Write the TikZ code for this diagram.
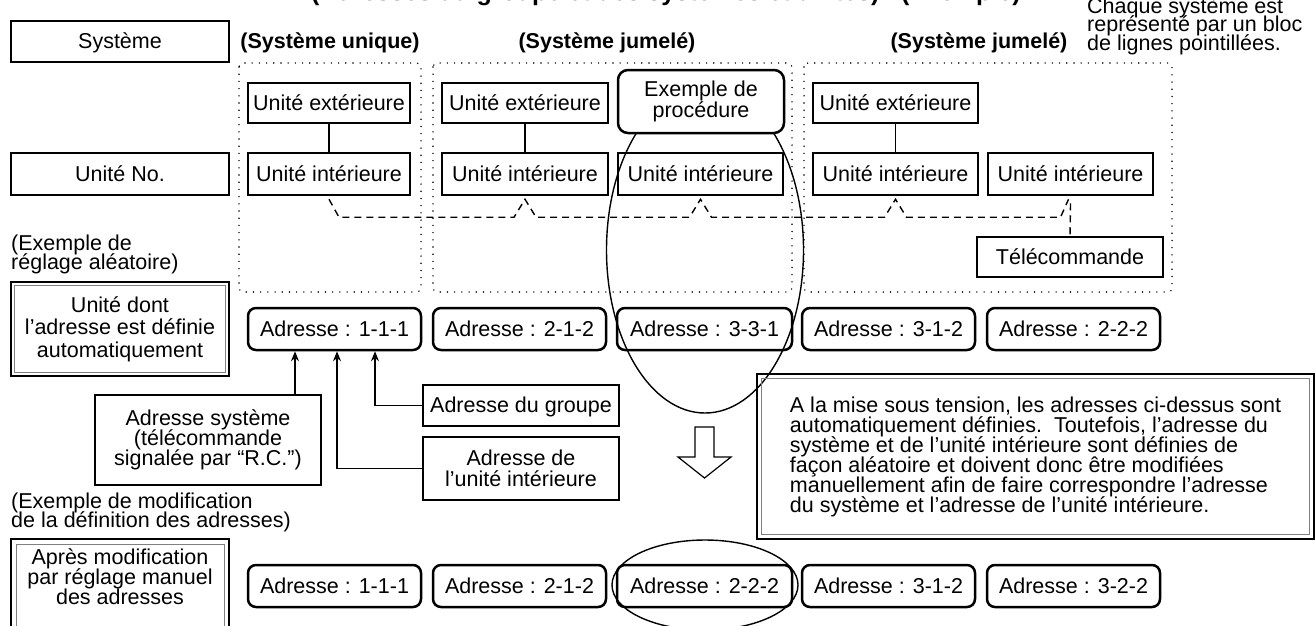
\documentclass[tikz,border=0pt]{standalone}
\usepackage{fontspec}
\setmainfont{Liberation Sans}
\usetikzlibrary{arrows.meta,calc}
\newcommand\lfont[1]{\fontsize{21.5}{#1}\selectfont\lineskiplimit=-100pt\lineskip=0pt}
\tikzset{
  ubox/.style={draw, line width=2.5, inner sep=0, minimum height=41, text height=16, text depth=2, font=\lfont{22}},
  rbox/.style={ubox, rounded corners=8},
  mbox/.style={draw, line width=2.5, inner sep=0, align=center},
  hdr/.style={inner sep=0, text height=16, text depth=4.5, font=\bfseries\lfont{22}},
  txt/.style={inner sep=0, align=left},
  dotbox/.style={line width=1.6, dash pattern=on 0pt off 7.2pt, line cap=round, rounded corners=4},
  bus/.style={line width=1.4, dash pattern=on 7pt off 5pt},
  conn/.style={line width=1.4},
  arr/.style={conn, -{Stealth[length=10pt,width=8pt]}},
  innerline/.style={line width=1, gray},
  outerline/.style={line width=2.6}
}
\begin{document}
\begin{tikzpicture}[x=1pt,y=-1pt]
\useasboundingbox (0,0) rectangle (1316,625);

% title (cut off at the top)
\node[anchor=base west, inner sep=0, font=\bfseries\fontsize{25}{25}\selectfont] (title) at (311,0.5) {(Adresses du groupe et des systèmes et unités)};
\node[anchor=base west, inner sep=0, font=\bfseries\fontsize{25}{25}\selectfont] (title2) at (901,0.5) {(Exemple)};
\node[anchor=north west, txt, font=\lfont{18.5}] (legend) at (1087,-3) {Chaque système est\\représenté par un bloc\\de lignes pointillées.};

% left column
\node[ubox, minimum width=218] (sys) at (120,41.5) {Système};
\node[ubox, minimum width=218, minimum height=42] (uno) at (120,174) {Unité No.};
\node[txt, anchor=west, font=\lfont{19}] (lab1) at (11,254) {(Exemple de\\réglage aléatoire)};
\node[mbox, outerline, minimum width=218, minimum height=94, font=\lfont{22.5}] (auto) at (120,329) {Unité dont\\l’adresse est définie\\automatiquement};
\draw[innerline] ($(auto.north west)+(5,5)$) rectangle ($(auto.south east)+(-5,-5)$);
\node[txt, anchor=west, font=\lfont{19}] (lab2) at (11,512.5) {(Exemple de modification\\de la définition des adresses)};
\draw[outerline] (11,539) rectangle (229,650);
\draw[innerline] (16,544) rectangle (224,645);
\node[inner sep=0, align=center, font=\lfont{20}] (apres) at (120,577) {Après modification\\par réglage manuel\\des adresses};

% headers
\node[hdr] (h1) at (330,43) {(Système unique)};
\node[hdr] (h2) at (607,43) {(Système jumelé)};
\node[hdr] (h3) at (979,43) {(Système jumelé)};

% system blocks
\draw[dotbox] (239,63) rectangle (421,292);
\draw[dotbox] (433,63) rectangle (792,292);
\draw[dotbox] (804,63) rectangle (1172,292);

% outdoor units
\node[ubox, minimum width=162, minimum height=40] (e1) at (329,103) {Unité extérieure};
\node[ubox, minimum width=166, minimum height=40] (e2) at (525,103) {Unité extérieure};
\node[ubox, minimum width=165, minimum height=40] (e3) at (895.5,103) {Unité extérieure};

% indoor units
\node[ubox, minimum width=162, minimum height=42] (i1) at (329,174) {Unité intérieure};
\node[ubox, minimum width=166, minimum height=42] (i2) at (525,174) {Unité intérieure};
\node[ubox, minimum width=165, minimum height=42] (i3) at (700.5,174) {Unité intérieure};
\node[ubox, minimum width=165, minimum height=42] (i4) at (895.5,174) {Unité intérieure};
\node[ubox, minimum width=165, minimum height=42] (i5) at (1070.5,174) {Unité intérieure};
\node[ubox, minimum width=186, minimum height=40] (tele) at (1070,257) {Télécommande};

\draw[conn] (e1) -- (i1);
\draw[conn] (e2) -- (i2);
\draw[conn] (e3) -- (i4);

\draw[bus] ($(i1.south)+(0,3)$) -- ($(i1.south)+(10,21)$) -- ($(i2.south)+(-11,21)$) -- ($(i2.south)+(0,3)$)
  -- ($(i2.south)+(11,21)$) -- ($(i3.south)+(-11,21)$) -- ($(i3.south)+(0,3)$)
  -- ($(i3.south)+(11,21)$) -- ($(i4.south)+(-11,21)$) -- ($(i4.south)+(0,3)$)
  -- ($(i4.south)+(11,21)$) -- ($(i5.south)+(-10,21)$) -- ($(i5.south)+(-2,3)$);
\draw[bus] ($(i5.south)+(0,7)$) -- (tele.north);

% addresses, random setting
\node[rbox, minimum width=173, minimum height=42] (a1) at (334.5,329) {Adresse : 1-1-1};
\node[rbox, minimum width=173, minimum height=42] (a2) at (519.5,329) {Adresse : 2-1-2};
\node[rbox, minimum width=175, minimum height=42] (a3) at (704.5,329) {Adresse : 3-3-1};
\node[rbox, minimum width=173, minimum height=42] (a4) at (888.5,329) {Adresse : 3-1-2};
\node[rbox, minimum width=173, minimum height=42] (a5) at (1073.5,329) {Adresse : 2-2-2};

% highlighted procedure example
\draw[conn] (705,250) ellipse [x radius=98.5, y radius=163];
\node[rbox, fill=white, rounded corners=10, minimum width=166, minimum height=63, align=center, text height=, text depth=, font=\lfont{21}] (proc) at (701,101.5) {Exemple de\\procédure};

% address parts
\node[mbox, minimum width=226, minimum height=90, font=\lfont{20}] (asys) at (208,440) {Adresse système\\(télécommande\\signalée par “R.C.”)};
\node[ubox, minimum width=196, minimum height=41] (agrp) at (521,405.5) {Adresse du groupe};
\node[mbox, minimum width=196, minimum height=63, font=\lfont{21}] (aunit) at (521,468.5) {Adresse de\\l’unité intérieure};
\coordinate (t1) at (295,0);
\coordinate (t2) at (337,0);
\coordinate (t3) at (375,0);
\draw[arr] (t1 |- asys.north) -- (t1 |- a1.south);
\draw[arr] (aunit.west) -| (t2 |- a1.south);
\draw[arr] (agrp.west) -| (t3 |- a1.south);

% hollow down arrow
\draw[conn, line width=1.2, line join=miter] (695,427) -- (714,427) -- (714,457) -- (731,457) -- (704.5,478) -- (678,457) -- (695,457) -- cycle;

% explanation
\node[mbox, outerline, minimum width=557, minimum height=165, align=left, font=\lfont{20}] (note) at (1035.5,456.5) {A la mise sous tension, les adresses ci-dessus sont\\automatiquement définies.\ \ Toutefois, l’adresse du\\système et de l’unité intérieure sont définies de\\façon aléatoire et doivent donc être modifiées\\manuellement afin de faire correspondre l’adresse\\du système et l’adresse de l’unité intérieure.};
\draw[innerline] ($(note.north west)+(6,6)$) rectangle ($(note.south east)+(-6,-6)$);

% addresses after manual setting
\node[rbox, minimum width=173, minimum height=42] (b1) at (334.5,586) {Adresse : 1-1-1};
\node[rbox, minimum width=173, minimum height=42] (b2) at (519.5,586) {Adresse : 2-1-2};
\node[rbox, minimum width=175, minimum height=42] (b3) at (704.5,586) {Adresse : 2-2-2};
\node[rbox, minimum width=173, minimum height=42] (b4) at (888.5,586) {Adresse : 3-1-2};
\node[rbox, minimum width=173, minimum height=42] (b5) at (1073.5,586) {Adresse : 3-2-2};
\draw[conn] (705,585) ellipse [x radius=93, y radius=45];
\end{tikzpicture}
\end{document}
